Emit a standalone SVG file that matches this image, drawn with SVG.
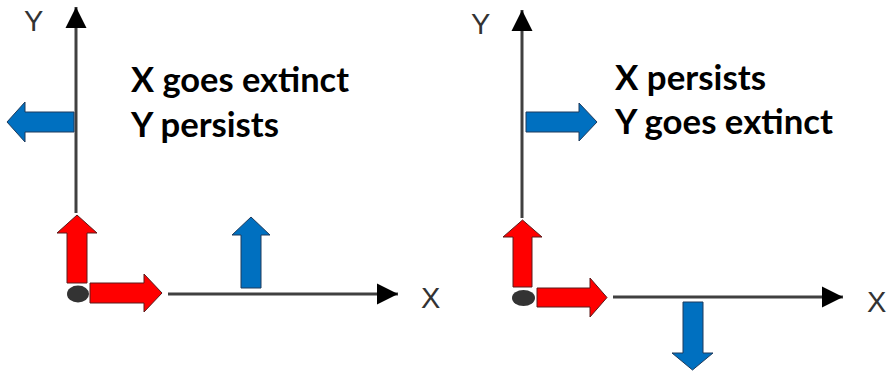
<svg xmlns="http://www.w3.org/2000/svg" width="889" height="371" viewBox="0 0 889 371">
  <style>
    .axis { stroke: #404040; stroke-width: 3; fill: none; }
    .blue { fill: #0070C0; stroke: #1F3B5C; stroke-width: 1; }
    .red { fill: #FF0000; stroke: #5A1A1A; stroke-width: 1; }
    .dot { fill: #333333; }
    .axlabel { font-family: "Liberation Sans", Arial, sans-serif; font-size: 29px; fill: #333333; }
    .note { font-family: Lato, "Open Sans", sans-serif; font-weight: 700; font-size: 34px; fill: #000000; }
  </style>
  <defs>
    <marker id="axhead" markerUnits="userSpaceOnUse" markerWidth="22" markerHeight="22" refX="21" refY="10.5" orient="auto" viewBox="0 0 22 21">
      <path d="M0,0 L21,10.5 L0,21 z" fill="#000000"/>
    </marker>
  </defs>

  <!-- axes -->
  <g id="connectors">
    <line class="axis" x1="76" y1="213" x2="76" y2="7" marker-end="url(#axhead)"/>
    <line class="axis" x1="168" y1="294" x2="398" y2="294" marker-end="url(#axhead)"/>
    <line class="axis" x1="522" y1="218" x2="522" y2="10" marker-end="url(#axhead)"/>
    <line class="axis" x1="613" y1="297" x2="843" y2="297" marker-end="url(#axhead)"/>
  </g>

  <!-- left panel -->
  <g id="left-labels">
    <text class="axlabel" x="24" y="31">Y</text>
    <text class="axlabel" x="421" y="308">X</text>
  </g>
  <g id="left-text">
    <text class="note" x="131" y="92" textLength="218" lengthAdjust="spacingAndGlyphs">X goes extinct</text>
    <text class="note" x="131" y="137" textLength="148" lengthAdjust="spacingAndGlyphs">Y persists</text>
  </g>
  <g id="left-y-flow">
    <polygon class="blue" points="74,112 25,112 25,102 7,122 25,142 25,132 74,132"/>
  </g>
  <g id="left-origin">
    <polygon class="red" points="67,283 67,233 57,233 77,215 97,233 87,233 87,283"/>
    <ellipse class="dot" cx="78" cy="294" rx="11" ry="8.5"/>
    <polygon class="red" points="90,283 144,283 144,274 162,293 144,312 144,303 90,303"/>
  </g>
  <g id="left-x-flow">
    <polygon class="blue" points="241,288 241,235 232,235 251,217 270,235 261,235 261,288"/>
  </g>

  <!-- right panel -->
  <g id="right-labels">
    <text class="axlabel" x="471" y="34">Y</text>
    <text class="axlabel" x="867" y="312">X</text>
  </g>
  <g id="right-text">
    <text class="note" x="615" y="90" textLength="151" lengthAdjust="spacingAndGlyphs">X persists</text>
    <text class="note" x="615" y="134" textLength="218" lengthAdjust="spacingAndGlyphs">Y goes extinct</text>
  </g>
  <g id="right-x-flow">
    <polygon class="blue" points="526,112 579,112 579,103 597,122 579,141 579,132 526,132"/>
  </g>
  <g id="right-origin">
    <polygon class="red" points="513,287 513,237 503,237 522.5,220 542,237 532,237 532,287"/>
    <ellipse class="dot" cx="523.5" cy="298" rx="11.5" ry="8"/>
    <polygon class="red" points="537,288 590,288 590,278 607,297.5 590,317 590,307 537,307"/>
  </g>
  <g id="right-y-flow">
    <polygon class="blue" points="683,302 703,302 703,353 713,353 692.5,370 672,353 683,353"/>
  </g>
</svg>
